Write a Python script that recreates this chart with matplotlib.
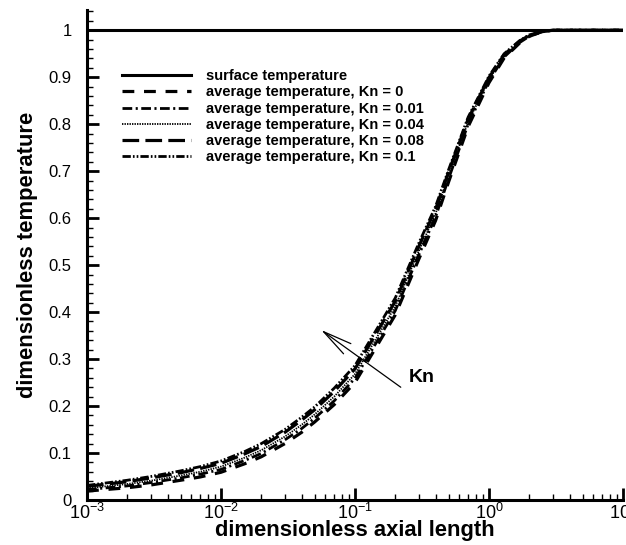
import numpy as np
import matplotlib
matplotlib.use('Agg')
import matplotlib.pyplot as plt
from matplotlib.patches import ArrowStyle

plt.rcParams['font.family'] = ['Liberation Sans', 'DejaVu Sans']
plt.rcParams['lines.scale_dashes'] = False
plt.rcParams['mathtext.fontset'] = 'custom'
plt.rcParams['mathtext.rm'] = 'Liberation Sans'

#%% data
x = [0.001, 0.002, 0.003, 0.005, 0.007, 0.01, 0.015, 0.02, 0.03, 0.04, 0.05, 0.07,
     0.1, 0.15, 0.2, 0.3, 0.4, 0.5, 0.7, 1.0, 1.3, 1.7, 2.0, 2.5, 3.0, 4.0, 10.0]
kn_0 = [0.019, 0.026, 0.032, 0.042, 0.049, 0.059, 0.077, 0.092, 0.120, 0.144, 0.166, 0.203,
        0.250, 0.334, 0.394, 0.513, 0.595, 0.677, 0.795, 0.888, 0.941, 0.973, 0.987, 0.997, 1.0, 1.0, 1.0]
kn_001 = [0.022, 0.030, 0.037, 0.047, 0.055, 0.065, 0.084, 0.099, 0.128, 0.152, 0.174, 0.211,
          0.259, 0.343, 0.403, 0.522, 0.603, 0.684, 0.800, 0.892, 0.943, 0.974, 0.987, 0.997, 1.0, 1.0, 1.0]
kn_004 = [0.025, 0.034, 0.041, 0.052, 0.060, 0.071, 0.090, 0.106, 0.135, 0.160, 0.182, 0.220,
          0.268, 0.352, 0.412, 0.530, 0.610, 0.690, 0.805, 0.895, 0.945, 0.975, 0.988, 0.997, 1.0, 1.0, 1.0]
kn_008 = [0.029, 0.039, 0.047, 0.058, 0.067, 0.078, 0.098, 0.114, 0.144, 0.170, 0.192, 0.231,
          0.279, 0.363, 0.423, 0.540, 0.619, 0.698, 0.811, 0.899, 0.948, 0.977, 0.989, 0.997, 1.0, 1.0, 1.0]
kn_01 = [0.031, 0.042, 0.050, 0.062, 0.071, 0.083, 0.103, 0.120, 0.150, 0.176, 0.198, 0.238,
         0.286, 0.370, 0.430, 0.547, 0.625, 0.703, 0.815, 0.902, 0.950, 0.978, 0.990, 0.998, 1.0, 1.0, 1.0]
x_surf = [0.001, 10.0]
surf = [1.0, 1.0]

labels = ['surface temperature',
          'average temperature, Kn = 0',
          'average temperature, Kn = 0.01',
          'average temperature, Kn = 0.04',
          'average temperature, Kn = 0.08',
          'average temperature, Kn = 0.1']
yticks = [0, 0.1, 0.2, 0.3, 0.4, 0.5, 0.6, 0.7, 0.8, 0.9, 1]
ytick_labels = ['0', '0.1', '0.2', '0.3', '0.4', '0.5', '0.6', '0.7', '0.8', '0.9', '1']
xticks = [1e-3, 1e-2, 1e-1, 1e0, 1e1]
xtick_labels = [r'$10^{-3}$', r'$10^{-2}$', r'$10^{-1}$', r'$10^{0}$', r'$10^{1}$']

#%% plot
fig = plt.figure(figsize=(6.26, 5.45), dpi=100)
ax = fig.add_axes([0.139, 0.0826, 0.856, 0.899])

ax.plot(x_surf, surf, 'k-', lw=2.2, label=labels[0])
ax.plot(x, kn_0, 'k', lw=2.3, dashes=(8.5, 7), label=labels[1])
ax.plot(x, kn_001, 'k', lw=2.0, dashes=(7, 2.5, 1.5, 2.5), label=labels[2])
ax.plot(x, kn_004, 'k', lw=1.3, dashes=(1, 0.8), label=labels[3])
ax.plot(x, kn_008, 'k', lw=2.3, dashes=(12, 4.5), label=labels[4])
ax.plot(x, kn_01, 'k', lw=2.0, dashes=(6, 1.5, 1.2, 1.5, 1.2, 1.5), label=labels[5])

ax.set_xscale('log')
ax.set_xlim(1e-3, 1e1)
ax.set_ylim(0, 1.043)
ax.set_xticks(xticks)
ax.set_xticklabels(xtick_labels)
ax.set_yticks(yticks)
ax.set_yticklabels(ytick_labels)
ax.set_yticks(np.arange(0, 1.05, 0.02), minor=True)

for s in ['top', 'right']:
    ax.spines[s].set_visible(False)
for s in ['left', 'bottom']:
    ax.spines[s].set_linewidth(2.2)

ax.tick_params(which='major', direction='in', length=8.6, width=2.0, labelsize=12)
ax.tick_params(which='minor', direction='in', length=4.5, width=1.0)
ax.tick_params(axis='y', which='major', pad=11)
ax.tick_params(axis='x', which='major', labelsize=13, pad=2)

ax.set_xlabel('dimensionless axial length', fontsize=15.8, fontweight='bold', labelpad=-2)
ax.set_ylabel('dimensionless temperature', fontsize=15.8, fontweight='bold', labelpad=8)

leg = ax.legend(loc='upper left', bbox_to_anchor=(0.055, 0.891), frameon=False,
                prop={'size': 10.5, 'weight': 'bold'}, handlelength=4.7,
                handletextpad=1.05, labelspacing=0.15, borderaxespad=0)

# Kn arrow
ax.annotate('', xy=(0.0559, 0.362), xytext=(0.2198, 0.240),
            arrowprops=dict(arrowstyle=ArrowStyle('->', head_length=2.1, head_width=0.45),
                            lw=0.9, color='k', shrinkA=0, shrinkB=0))
ax.text(0.315, 0.26, 'Kn', fontsize=14, fontweight='bold', ha='center', va='center')

fig.savefig('out.png', dpi=100)
